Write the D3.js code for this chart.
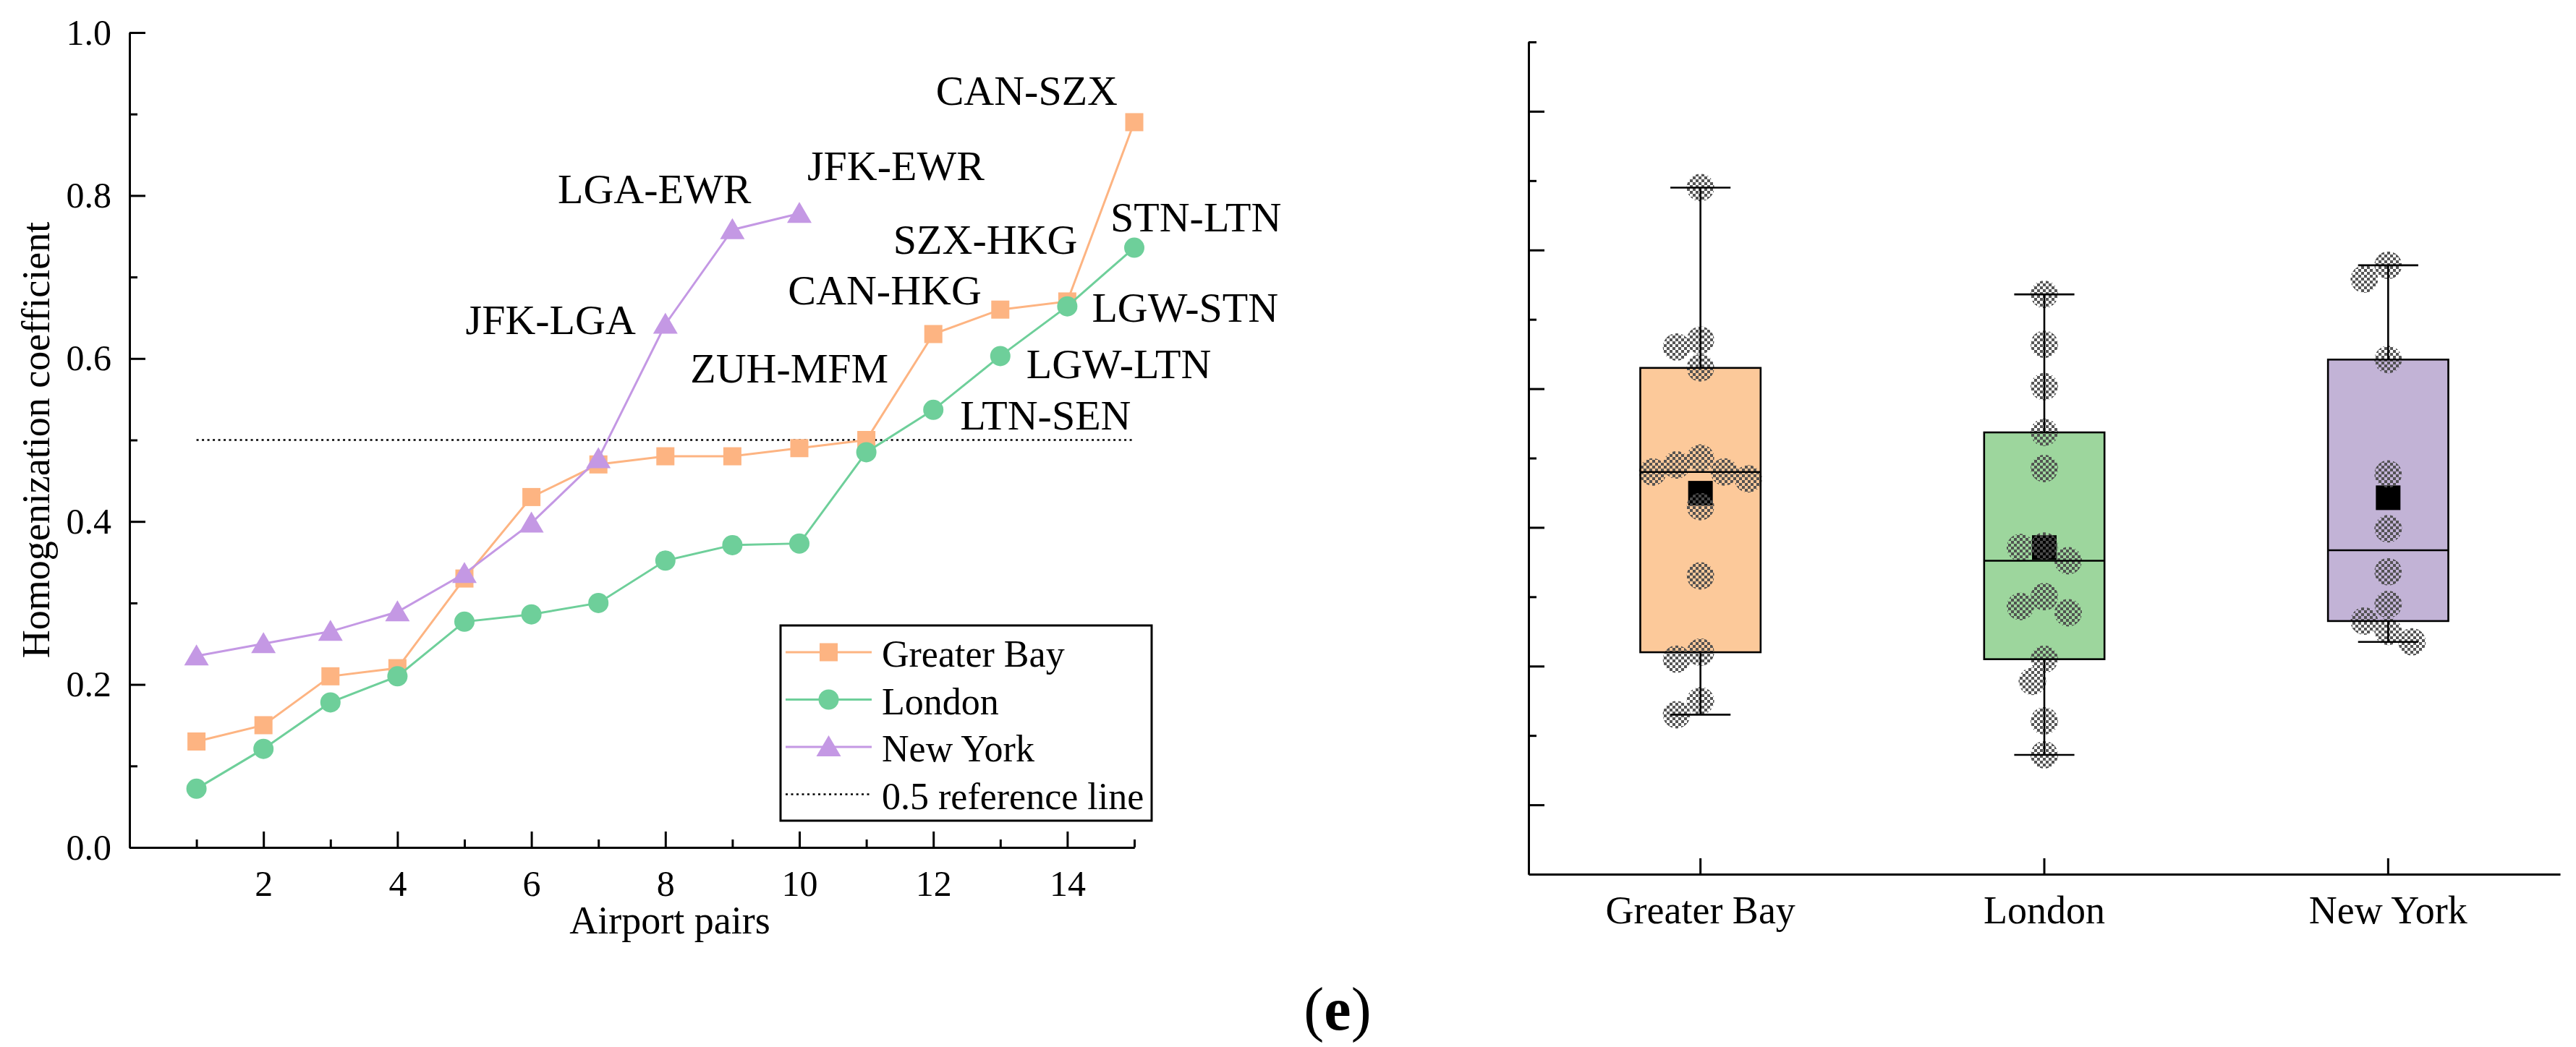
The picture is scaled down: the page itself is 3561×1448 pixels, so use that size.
<!DOCTYPE html>
<html>
<head>
<meta charset="utf-8">
<script src="https://cdn.jsdelivr.net/npm/d3@7"></script>
<style>
  body { margin: 0; background: #fff; }
  svg { display: block; }
  text { font-family: "Liberation Serif", "Times New Roman", serif; fill: #000; }
</style>
</head>
<body>
<svg id="chart" width="3561" height="1448"></svg>
<script>
// ---- data ----
const pairIndex = [1, 2, 3, 4, 5, 6, 7, 8, 9, 10, 11, 12, 13, 14, 15];
const greaterBay = [0.13, 0.15, 0.21, 0.22, 0.33, 0.43, 0.47, 0.48, 0.48, 0.49, 0.50, 0.63, 0.66, 0.67, 0.89];
const london = [0.072, 0.121, 0.178, 0.21, 0.277, 0.286, 0.30, 0.352, 0.371, 0.373, 0.485, 0.537, 0.603, 0.664, 0.736];
const newYork = [0.235, 0.25, 0.265, 0.289, 0.336, 0.398, 0.477, 0.642, 0.758, 0.778];
const regions = ["Greater Bay", "London", "New York"];
const refValue = 0.5;
const xMajorTicks = [2, 4, 6, 8, 10, 12, 14];
const xMinorTicks = [1, 3, 5, 7, 9, 11, 13, 15];
const yMajorTicks = [0, 0.2, 0.4, 0.6, 0.8, 1.0];
const yMinorTicks = [0.1, 0.3, 0.5, 0.7, 0.9];
const pairLabels = [
  { series: 0, pair: 15, text: "CAN-SZX" },
  { series: 0, pair: 14, text: "SZX-HKG" },
  { series: 0, pair: 13, text: "CAN-HKG" },
  { series: 0, pair: 12, text: "ZUH-MFM" },
  { series: 1, pair: 15, text: "STN-LTN" },
  { series: 1, pair: 14, text: "LGW-STN" },
  { series: 1, pair: 13, text: "LGW-LTN" },
  { series: 1, pair: 12, text: "LTN-SEN" },
  { series: 2, pair: 10, text: "JFK-EWR" },
  { series: 2, pair: 9, text: "LGA-EWR" },
  { series: 2, pair: 8, text: "JFK-LGA" }
];

// label placement relative to its point (pixels)
const labelPlace = {
  "CAN-SZX": [-23, -24, "end"], "SZX-HKG": [14, -66, "end"], "CAN-HKG": [-26, -7, "end"],
  "ZUH-MFM": [-62, 67, "end"], "STN-LTN": [-33, -23, "start"], "LGW-STN": [34, 21, "start"],
  "LGW-LTN": [36, 31, "start"], "LTN-SEN": [37, 27, "start"], "JFK-EWR": [11, -46, "start"],
  "LGA-EWR": [26, -37, "end"], "JFK-LGA": [-41, 14, "end"]
};

const lineColors = ["#FDB482", "#6ECF9A", "#C498E4"];
const boxColors = ["#FCC99A", "#9DD69D", "#C2B3D6"];
const seriesData = [greaterBay, london, newYork];

const svg = d3.select("#chart");

function styleAxis(g, size) {
  g.attr("font-family", null).attr("font-size", null);
  g.selectAll("path.domain").attr("stroke", "#000").attr("stroke-width", 3);
  g.selectAll(".tick line").attr("stroke", "#000").attr("stroke-width", 3);
  g.selectAll(".tick text").style("font-size", size + "px");
}

// ================= left panel =================
const xL = d3.scaleLinear().domain([0, 15]).range([179, 1568]);
const yL = d3.scaleLinear().domain([0, 1]).range([1172, 45]);
const left = svg.append("g");

left.append("g").attr("transform", `translate(0,${yL(0)})`)
  .call(d3.axisBottom(xL).tickValues(xMinorTicks).tickSize(-11).tickFormat("").tickSizeOuter(0))
  .call(g => styleAxis(g, 50));
left.append("g").attr("transform", `translate(0,${yL(0)})`)
  .call(d3.axisBottom(xL).tickValues(xMajorTicks).tickSize(-22).tickPadding(31).tickSizeOuter(0))
  .call(g => styleAxis(g, 50));
left.append("g").attr("transform", `translate(${xL(0)},0)`)
  .call(d3.axisLeft(yL).tickValues(yMinorTicks).tickSize(-11).tickFormat("").tickSizeOuter(0))
  .call(g => styleAxis(g, 50));
left.append("g").attr("transform", `translate(${xL(0)},0)`)
  .call(d3.axisLeft(yL).tickValues(yMajorTicks).tickSize(-22).tickPadding(25)
    .tickFormat(d3.format(".1f")).tickSizeOuter(0))
  .call(g => styleAxis(g, 50));

left.append("text").attr("x", 926).attr("y", 1291).attr("text-anchor", "middle")
  .style("font-size", "54px").text("Airport pairs");
left.append("text").attr("transform", `translate(68,${(yL(0) + yL(1)) / 2}) rotate(-90)`)
  .attr("text-anchor", "middle").style("font-size", "54px").text("Homogenization coefficient");

// reference line
left.append("line")
  .attr("x1", xL(pairIndex[0])).attr("x2", xL(pairIndex[pairIndex.length - 1]))
  .attr("y1", yL(refValue)).attr("y2", yL(refValue))
  .attr("stroke", "#000").attr("stroke-width", 2.5).attr("stroke-dasharray", "3,4.5");

const line = d3.line().x((d, i) => xL(pairIndex[i])).y(d => yL(d));
const symbols = [
  (g, c) => g.append("rect").attr("x", -12.5).attr("y", -12.5).attr("width", 25).attr("height", 25).attr("fill", c),
  (g, c) => g.append("circle").attr("r", 14).attr("fill", c),
  (g, c) => g.append("path").attr("d", "M0,-16L17,13L-17,13Z").attr("fill", c)
];

seriesData.forEach((vals, s) => {
  left.append("path").datum(vals).attr("d", line)
    .attr("fill", "none").attr("stroke", lineColors[s]).attr("stroke-width", 3);
  vals.forEach((v, i) => {
    const g = left.append("g").attr("transform", `translate(${xL(pairIndex[i])},${yL(v)})`);
    symbols[s](g, lineColors[s]);
  });
});

pairLabels.forEach(l => {
  const v = seriesData[l.series][l.pair - 1];
  const p = labelPlace[l.text];
  left.append("text")
    .attr("x", xL(l.pair) + p[0]).attr("y", yL(v) + p[1])
    .attr("text-anchor", p[2]).style("font-size", "58px").text(l.text);
});

// legend
const legend = left.append("g");
legend.append("rect").attr("x", 1079).attr("y", 865).attr("width", 513).attr("height", 270)
  .attr("fill", "#fff").attr("stroke", "#000").attr("stroke-width", 3);
const legendItems = regions.concat(["0.5 reference line"]);
legendItems.forEach((name, i) => {
  const yy = 902 + i * 65.5;
  const g = legend.append("g").attr("transform", `translate(0,${yy})`);
  const ln = g.append("line").attr("x1", 1086).attr("x2", 1205).attr("y1", 0).attr("y2", 0);
  if (i < 3) {
    ln.attr("stroke", lineColors[i]).attr("stroke-width", 3);
    symbols[i](g.append("g").attr("transform", "translate(1145.5,0)"), lineColors[i]);
  } else {
    ln.attr("stroke", "#000").attr("stroke-width", 2.5).attr("stroke-dasharray", "3,4.5");
  }
  g.append("text").attr("x", 1219).attr("y", 20).style("font-size", "52px").text(name);
});

// ================= right panel =================
const xR = d3.scaleBand().domain(regions).range([2113, 3539]).padding(0);
const yR = d3.scaleLinear().domain([-0.1, 1.1]).range([1209, 58]);
const right = svg.append("g");

const defs = svg.append("defs");
const pat = defs.append("pattern").attr("id", "checker").attr("patternUnits", "userSpaceOnUse")
  .attr("width", 8).attr("height", 8);
pat.append("rect").attr("width", 4).attr("height", 4).attr("fill", "#4d4d4d");
pat.append("rect").attr("x", 4).attr("y", 4).attr("width", 4).attr("height", 4).attr("fill", "#4d4d4d");

right.append("g").attr("transform", `translate(${xR.range()[0]},0)`)
  .call(d3.axisLeft(yR).tickValues(yMinorTicks.concat([1.1])).tickSize(-11).tickFormat("").tickSizeOuter(0))
  .call(g => styleAxis(g, 54));
right.append("g").attr("transform", `translate(${xR.range()[0]},0)`)
  .call(d3.axisLeft(yR).tickValues(yMajorTicks).tickSize(-22).tickFormat("").tickSizeOuter(0))
  .call(g => styleAxis(g, 54));
right.append("g").attr("transform", `translate(0,${yR(-0.1)})`)
  .call(d3.axisBottom(xR).tickSize(-22).tickPadding(30).tickSizeOuter(0))
  .call(g => styleAxis(g, 54));

function hinges(sorted) {
  const h = Math.floor(sorted.length / 2);
  return [d3.median(sorted.slice(0, h)), d3.median(sorted), d3.median(sorted.slice(sorted.length - h))];
}

// simple beeswarm placement, descending order
function swarm(vals, step, minDist) {
  const placed = [];
  const order = vals.map((v, i) => i).sort((a, b) => vals[b] - vals[a]);
  const out = new Array(vals.length);
  order.forEach(i => {
    const y = yR(vals[i]);
    for (let k = 0; k < 20; k++) {
      const off = (k === 0 ? 0 : (k % 2 ? -1 : 1) * Math.ceil(k / 2) * step);
      const ok = placed.every(p => Math.hypot(p[0] - off, p[1] - y) >= minDist - 0.01);
      if (ok) { placed.push([off, y]); out[i] = off; break; }
    }
  });
  return out;
}

const boxW = xR.bandwidth() * 0.35;
seriesData.forEach((vals, s) => {
  const sorted = vals.slice().sort(d3.ascending);
  const [q1, med, q3] = hinges(sorted);
  const lo = d3.min(sorted), hi = d3.max(sorted), mean = d3.mean(sorted);
  const cx = xR(regions[s]) + xR.bandwidth() / 2;
  const g = right.append("g");

  g.append("rect").attr("x", cx - boxW / 2).attr("y", yR(q3))
    .attr("width", boxW).attr("height", yR(q1) - yR(q3)).attr("fill", boxColors[s]);
  g.append("rect").attr("x", cx - 17).attr("y", yR(mean) - 17).attr("width", 34).attr("height", 34).attr("fill", "#000");

  const offs = swarm(vals, 16.5, 33);
  vals.forEach((v, i) => {
    g.append("circle").attr("cx", cx + offs[i]).attr("cy", yR(v)).attr("r", 19)
      .attr("fill", "url(#checker)").attr("opacity", 0.95);
  });

  g.append("rect").attr("x", cx - boxW / 2).attr("y", yR(q3))
    .attr("width", boxW).attr("height", yR(q1) - yR(q3))
    .attr("fill", "none").attr("stroke", "#000").attr("stroke-width", 2.6);
  const seg = (x1, y1, x2, y2) => g.append("line").attr("x1", x1).attr("y1", y1).attr("x2", x2).attr("y2", y2)
    .attr("stroke", "#000").attr("stroke-width", 2.6);
  seg(cx - boxW / 2, yR(med), cx + boxW / 2, yR(med));
  seg(cx, yR(q3), cx, yR(hi));
  seg(cx, yR(q1), cx, yR(lo));
  seg(cx - boxW / 4, yR(hi), cx + boxW / 4, yR(hi));
  seg(cx - boxW / 4, yR(lo), cx + boxW / 4, yR(lo));
});

// caption
svg.append("text").attr("x", 1849).attr("y", 1424).attr("text-anchor", "middle")
  .style("font-size", "84px")
  .call(t => {
    t.append("tspan").text("(");
    t.append("tspan").attr("font-weight", "bold").text("e");
    t.append("tspan").text(")");
  });
</script>
</body>
</html>
